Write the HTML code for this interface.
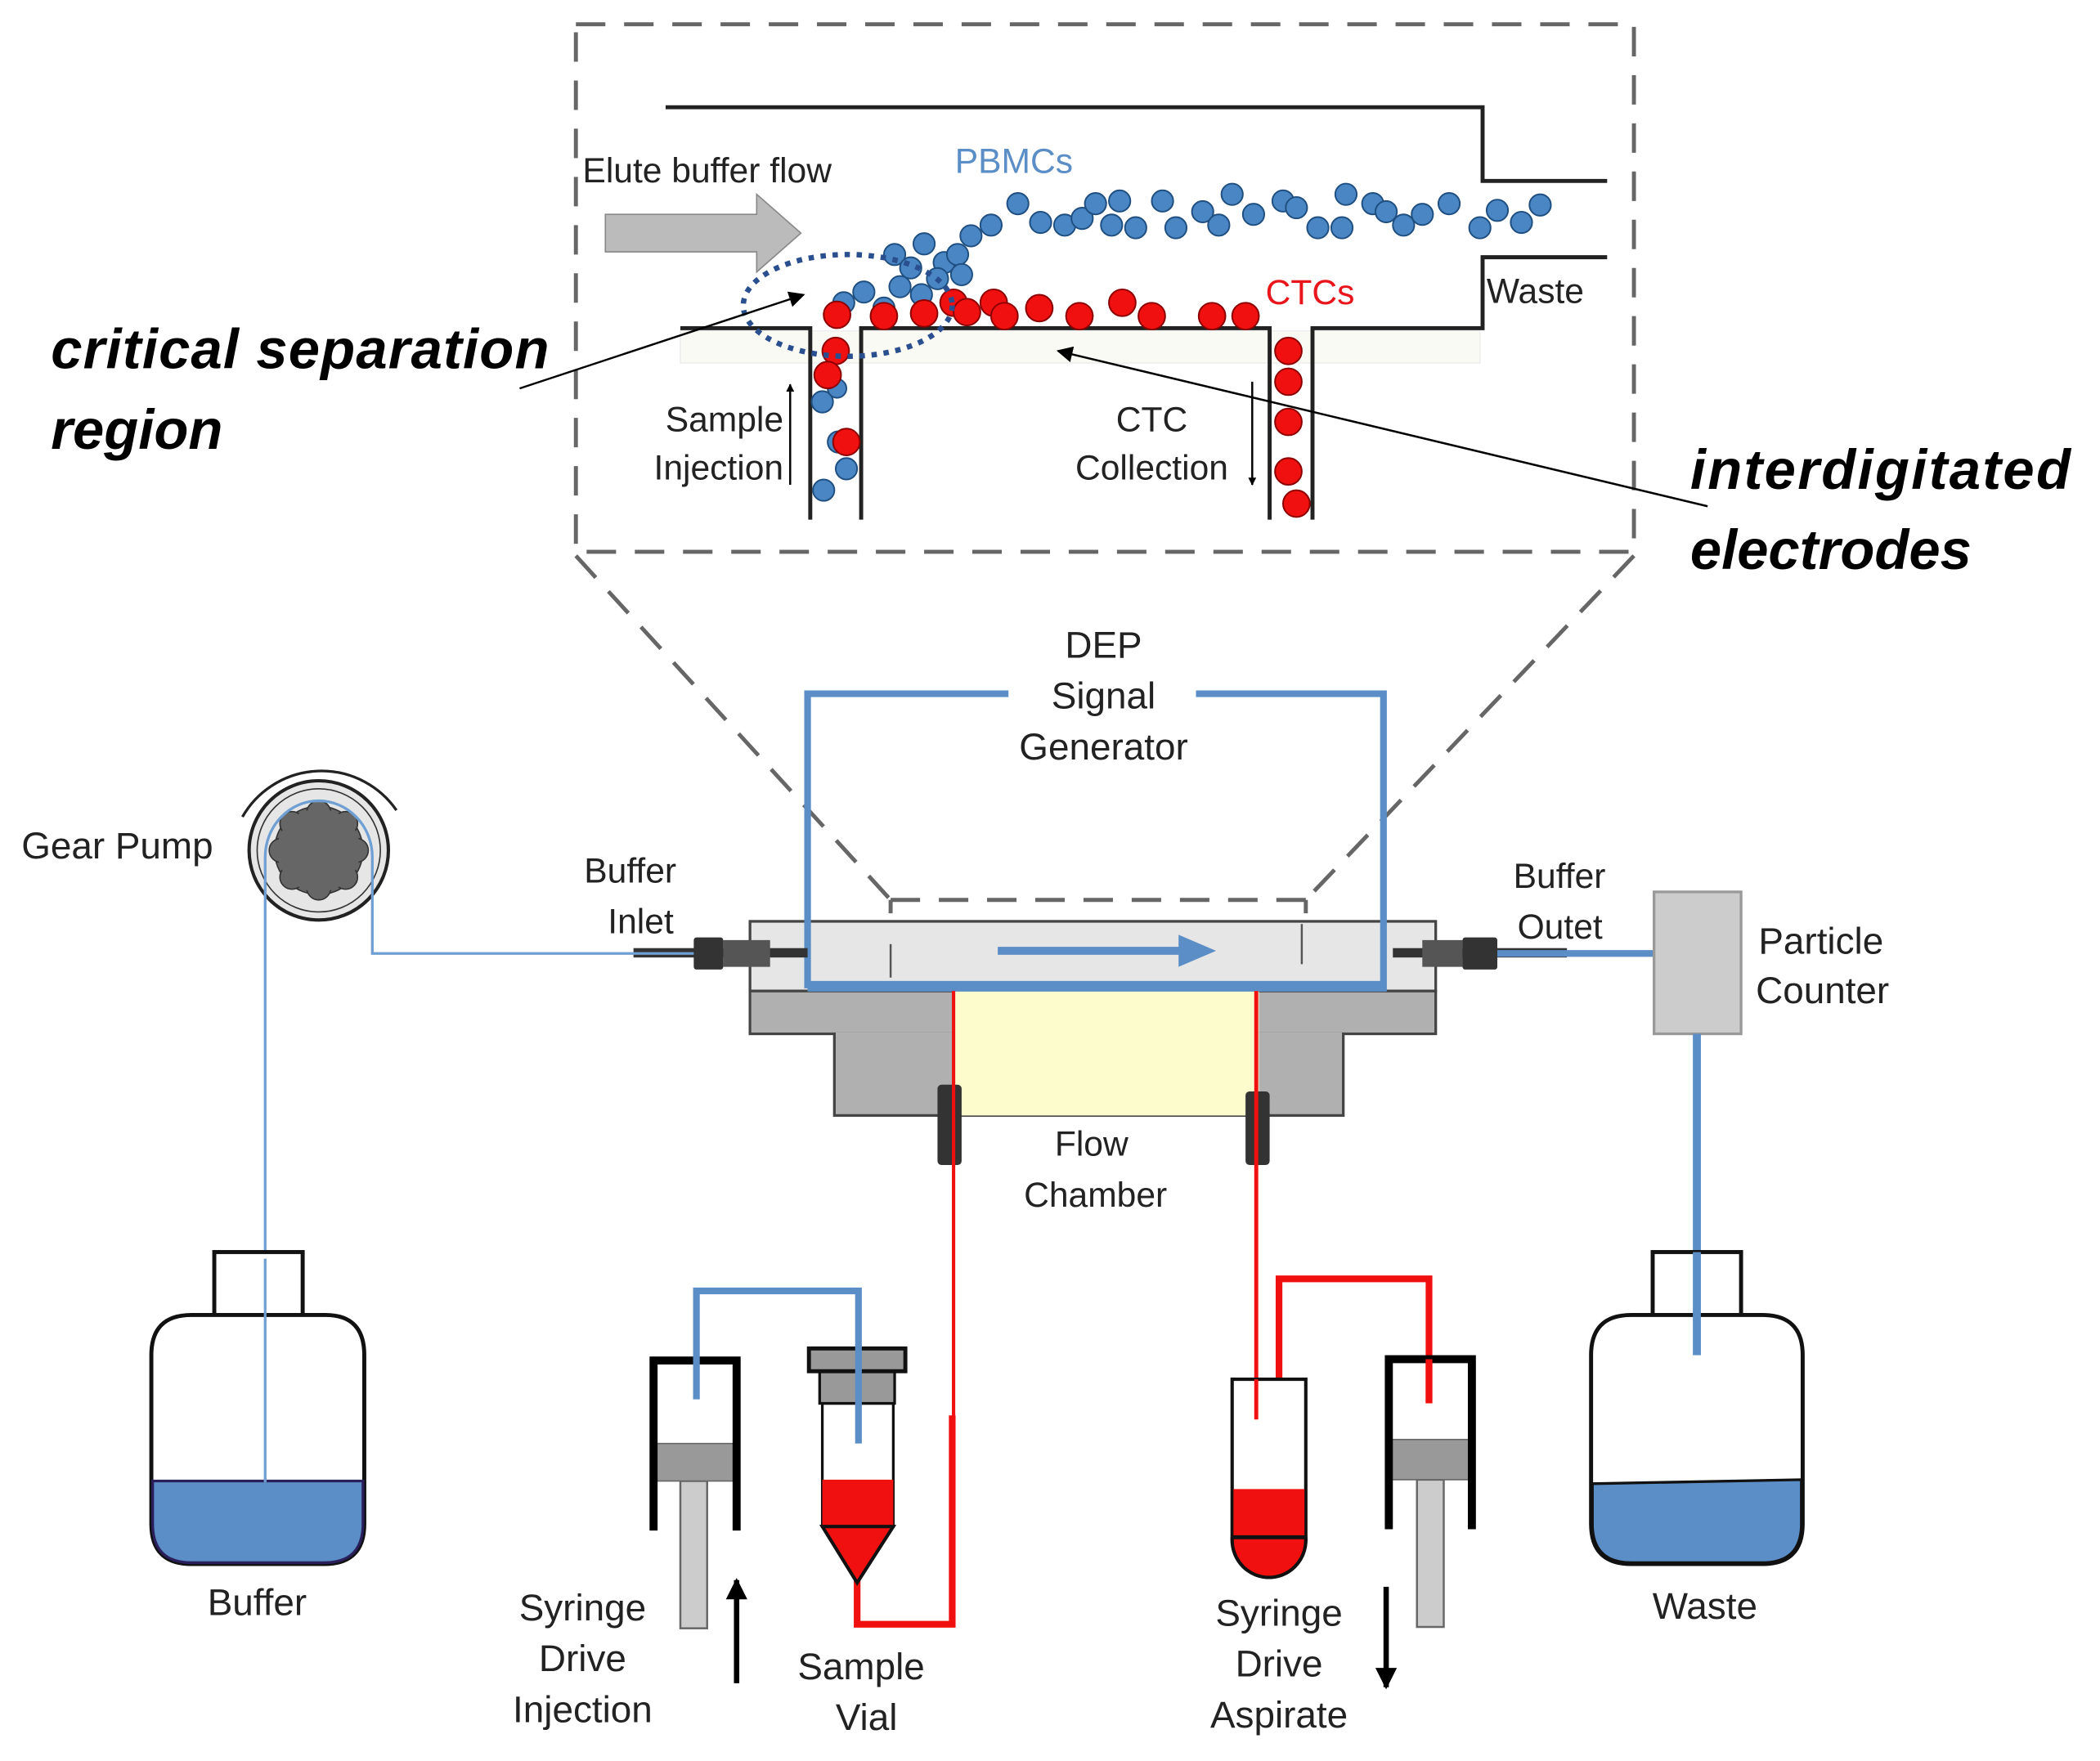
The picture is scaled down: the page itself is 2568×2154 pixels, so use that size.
<!DOCTYPE html>
<html><head><meta charset="utf-8"><style>
html,body{margin:0;padding:0;background:#fff;}
svg{display:block;}
text{font-family:"Liberation Sans",sans-serif;}
</style></head><body>
<svg width="2568" height="2154" viewBox="0 0 1568 1315" xmlns="http://www.w3.org/2000/svg">
<defs>
<marker id="ah" viewBox="0 0 10 10" refX="9" refY="5" markerWidth="8" markerHeight="8" orient="auto"><path d="M0,0 L10,5 L0,10 z" fill="#000"/></marker>
<marker id="ah3" viewBox="0 0 10 10" refX="9" refY="5" markerWidth="22" markerHeight="16" markerUnits="userSpaceOnUse" orient="auto"><path d="M0,0 L10,5 L0,10 z" fill="#000"/></marker>
<marker id="ah2" viewBox="0 0 10 10" refX="9" refY="5" markerWidth="4" markerHeight="4" orient="auto"><path d="M0,0 L10,5 L0,10 z" fill="#000"/></marker>
</defs>
<g stroke="#666" stroke-width="3" stroke-dasharray="22,14" fill="none">
<rect x="430" y="18" width="790" height="394"/>
<line x1="430" y1="415" x2="665" y2="672"/>
<line x1="1220" y1="415" x2="975" y2="672"/>
<line x1="665" y1="672" x2="975" y2="672"/>
<line x1="665" y1="752" x2="975" y2="752"/>
<line x1="665" y1="672" x2="665" y2="752" stroke-dasharray="10,8"/>
<line x1="975" y1="672" x2="975" y2="752" stroke-dasharray="10,8"/>
</g>
<rect x="508" y="247" width="597" height="24" fill="#fafaf4" stroke="#eee"/>
<g stroke="#222" stroke-width="3" fill="none">
<polyline points="497,80 1107,80 1107,135 1200,135"/>
<polyline points="1200,192 1107,192 1107,245 980,245 980,388"/>
<polyline points="508,245 605,245 605,388"/>
<polyline points="643,388 643,245 948,245 948,388"/>
</g>
<polygon points="452,160 565,160 565,145 598,174 565,203 565,188 452,188" fill="#bbb" stroke="#888"/>
<text x="435" y="136" font-size="26" fill="#222">Elute buffer flow</text>
<text x="713" y="129" font-size="26" fill="#5b8ec6">PBMCs</text>
<text x="945" y="227" font-size="26" fill="#e8161b">CTCs</text>
<text x="1110" y="226" font-size="26" fill="#222">Waste</text>
<text x="585" y="322" font-size="26" fill="#222" text-anchor="end">Sample</text>
<text x="585" y="358" font-size="26" fill="#222" text-anchor="end">Injection</text>
<text x="860" y="322" font-size="26" fill="#222" text-anchor="middle">CTC</text>
<text x="860" y="358" font-size="26" fill="#222" text-anchor="middle">Collection</text>
<line x1="590" y1="362" x2="590" y2="287" stroke="#000" stroke-width="1.5" marker-end="url(#ah2)"/>
<line x1="935" y1="285" x2="935" y2="362" stroke="#000" stroke-width="1.5" marker-end="url(#ah2)"/>
<g fill="#4a86c4" stroke="#1f4f80" stroke-width="1.2">
<circle cx="668" cy="190" r="8"/><circle cx="680" cy="200" r="8"/><circle cx="690" cy="182" r="8"/><circle cx="705" cy="196" r="8"/><circle cx="715" cy="190" r="8"/><circle cx="725" cy="176" r="8"/><circle cx="740" cy="168" r="8"/><circle cx="718" cy="205" r="8"/><circle cx="700" cy="208" r="8"/><circle cx="688" cy="220" r="8"/><circle cx="672" cy="214" r="8"/><circle cx="660" cy="230" r="8"/><circle cx="645" cy="218" r="8"/><circle cx="630" cy="226" r="8"/>
<circle cx="760" cy="152" r="8"/><circle cx="777" cy="166" r="8"/><circle cx="795" cy="168" r="8"/><circle cx="808" cy="163" r="8"/><circle cx="818" cy="152" r="8"/><circle cx="836" cy="150" r="8"/><circle cx="830" cy="168" r="8"/><circle cx="848" cy="170" r="8"/><circle cx="868" cy="150" r="8"/><circle cx="878" cy="170" r="8"/><circle cx="898" cy="158" r="8"/><circle cx="910" cy="168" r="8"/><circle cx="920" cy="145" r="8"/><circle cx="936" cy="160" r="8"/><circle cx="958" cy="150" r="8"/><circle cx="968" cy="155" r="8"/><circle cx="984" cy="170" r="8"/><circle cx="1005" cy="145" r="8"/><circle cx="1002" cy="170" r="8"/><circle cx="1025" cy="152" r="8"/><circle cx="1035" cy="158" r="8"/><circle cx="1048" cy="168" r="8"/><circle cx="1062" cy="160" r="8"/><circle cx="1082" cy="152" r="8"/><circle cx="1105" cy="170" r="8"/><circle cx="1118" cy="157" r="8"/><circle cx="1136" cy="166" r="8"/><circle cx="1150" cy="153" r="8"/>
<circle cx="614" cy="300" r="8"/><circle cx="626" cy="330" r="8"/><circle cx="632" cy="350" r="8"/><circle cx="615" cy="366" r="8"/><circle cx="625" cy="290" r="7"/>
</g>
<g fill="#f01010" stroke="#8a0000" stroke-width="1.2">
<circle cx="625" cy="235" r="10"/><circle cx="660" cy="236" r="10"/><circle cx="690" cy="234" r="10"/><circle cx="712" cy="226" r="10"/><circle cx="722" cy="233" r="10"/><circle cx="742" cy="226" r="10"/><circle cx="750" cy="236" r="10"/><circle cx="776" cy="230" r="10"/><circle cx="806" cy="236" r="10"/><circle cx="838" cy="226" r="10"/><circle cx="860" cy="236" r="10"/><circle cx="905" cy="236" r="10"/><circle cx="930" cy="236" r="10"/>
<circle cx="624" cy="262" r="10"/><circle cx="618" cy="280" r="10"/><circle cx="632" cy="330" r="10"/>
<circle cx="962" cy="262" r="10"/><circle cx="962" cy="285" r="10"/><circle cx="962" cy="315" r="10"/><circle cx="962" cy="352" r="10"/><circle cx="968" cy="376" r="10"/>
</g>
<ellipse cx="633" cy="228" rx="78" ry="38" fill="none" stroke="#2a4f8f" stroke-width="4" stroke-dasharray="4,5"/>
<text x="38" y="275" font-size="42" font-weight="bold" font-style="italic" fill="#000" textLength="372">critical separation</text>
<text x="38" y="335" font-size="42" font-weight="bold" font-style="italic" fill="#000">region</text>
<text x="1262" y="365" font-size="42" font-weight="bold" font-style="italic" fill="#000" textLength="284">interdigitated</text>
<text x="1262" y="425" font-size="42" font-weight="bold" font-style="italic" fill="#000">electrodes</text>
<line x1="388" y1="290" x2="600" y2="220" stroke="#000" stroke-width="1.5" marker-end="url(#ah)"/>
<line x1="1275" y1="378" x2="790" y2="262" stroke="#000" stroke-width="1.5" marker-end="url(#ah)"/>
<text x="824" y="491" font-size="28" fill="#222" text-anchor="middle">DEP</text>
<text x="824" y="529" font-size="28" fill="#222" text-anchor="middle">Signal</text>
<text x="824" y="567" font-size="28" fill="#222" text-anchor="middle">Generator</text>
<rect x="560" y="740" width="512" height="32" fill="#b0b0b0" stroke="#444" stroke-width="2"/>
<rect x="623" y="770" width="380" height="63" fill="#b0b0b0" stroke="#444" stroke-width="2"/>
<rect x="561" y="741" width="510" height="30" fill="#b0b0b0"/>
<rect x="560" y="688" width="512" height="52" fill="#e6e6e6" stroke="#444" stroke-width="2"/>
<rect x="712" y="740" width="228" height="93" fill="#fcfccc"/>
<line x1="665" y1="705" x2="665" y2="730" stroke="#555" stroke-width="1.5"/>
<line x1="972" y1="690" x2="972" y2="720" stroke="#555" stroke-width="1.5"/>
<polyline points="603,738 603,518 753,518" fill="none" stroke="#5b8ec6" stroke-width="5"/>
<polyline points="893,518 1033,518 1033,738 603,738" fill="none" stroke="#5b8ec6" stroke-width="5"/>
<line x1="603" y1="736" x2="1033" y2="736" stroke="#5b8ec6" stroke-width="7"/>
<line x1="745" y1="710" x2="885" y2="710" stroke="#5b8ec6" stroke-width="6"/>
<polygon points="880,698 908,710 880,722" fill="#5b8ec6"/>
<rect x="473" y="708" width="130" height="7" fill="#333"/>
<rect x="518" y="700" width="22" height="24" fill="#333" rx="2"/>
<rect x="540" y="702" width="35" height="20" fill="#555"/>
<rect x="1040" y="708" width="130" height="7" fill="#333"/>
<rect x="1062" y="702" width="30" height="20" fill="#555"/>
<rect x="1092" y="700" width="26" height="24" fill="#333" rx="2"/>
<rect x="700" y="810" width="18" height="60" fill="#333" rx="3"/>
<rect x="930" y="815" width="18" height="55" fill="#333" rx="3"/>
<text x="505" y="659" font-size="26" fill="#222" text-anchor="end">Buffer</text>
<text x="503" y="697" font-size="26" fill="#222" text-anchor="end">Inlet</text>
<text x="1130" y="663" font-size="26" fill="#222">Buffer</text>
<text x="1133" y="701" font-size="26" fill="#222">Outet</text>
<text x="815" y="863" font-size="26" fill="#222" text-anchor="middle">Flow</text>
<text x="818" y="901" font-size="26" fill="#222" text-anchor="middle">Chamber</text>
<path d="M181,610 A68,68 0 0 1 296,605" fill="none" stroke="#222" stroke-width="2"/>
<circle cx="238" cy="635" r="52" fill="#e6e6e6" stroke="#222" stroke-width="2.5"/>
<circle cx="238" cy="635" r="46" fill="none" stroke="#333" stroke-width="1"/>
<g fill="#666" stroke="#333" stroke-width="1">
<circle cx="238" cy="635" r="33"/>
<circle cx="238" cy="607" r="9"/><circle cx="258" cy="615" r="9"/><circle cx="266" cy="635" r="9"/><circle cx="258" cy="655" r="9"/><circle cx="238" cy="663" r="9"/><circle cx="218" cy="655" r="9"/><circle cx="210" cy="635" r="9"/><circle cx="218" cy="615" r="9"/>
</g>
<circle cx="238" cy="635" r="31" fill="#666"/>
<path d="M198,1107 L198,640 A40,42 0 0 1 278,640 L278,712 L518,712" fill="none" stroke="#6f9fd3" stroke-width="2"/>
<text x="16" y="641" font-size="28" fill="#222">Gear Pump</text>
<rect x="160" y="935" width="66" height="47" fill="#fff" stroke="#111" stroke-width="3"/>
<path d="M143,982 L243,982 Q272,982 272,1012 L272,1138 Q272,1168 242,1168 L143,1168 Q113,1168 113,1138 L113,1012 Q113,982 143,982 Z" fill="#fff" stroke="#111" stroke-width="3"/>
<path d="M114,1106 L271,1106 L271,1138 Q271,1167 242,1167 L143,1167 Q114,1167 114,1138 Z" fill="#5b8ec6" stroke="#2a1f5a" stroke-width="2"/>
<line x1="198" y1="940" x2="198" y2="1107" stroke="#6f9fd3" stroke-width="2"/>
<text x="192" y="1206" font-size="28" fill="#222" text-anchor="middle">Buffer</text>
<line x1="1118" y1="712" x2="1237" y2="712" stroke="#5b8ec6" stroke-width="5"/>
<rect x="1235" y="666" width="65" height="106" fill="#ccc" stroke="#999" stroke-width="2"/>
<line x1="1267" y1="772" x2="1267" y2="1012" stroke="#5b8ec6" stroke-width="6"/>
<text x="1313" y="712" font-size="28" fill="#222">Particle</text>
<text x="1311" y="749" font-size="28" fill="#222">Counter</text>
<rect x="1234" y="935" width="66" height="47" fill="#fff" stroke="#111" stroke-width="3"/>
<path d="M1218,982 L1316,982 Q1346,982 1346,1012 L1346,1138 Q1346,1168 1316,1168 L1218,1168 Q1188,1168 1188,1138 L1188,1012 Q1188,982 1218,982 Z" fill="#fff" stroke="#111" stroke-width="3"/>
<path d="M1189,1108 L1345,1105 L1345,1138 Q1345,1167 1316,1167 L1218,1167 Q1189,1167 1189,1138 Z" fill="#5b8ec6" stroke="#111" stroke-width="2"/>
<line x1="1267" y1="935" x2="1267" y2="1012" stroke="#5b8ec6" stroke-width="6"/>
<text x="1273" y="1209" font-size="28" fill="#222" text-anchor="middle">Waste</text>
<line x1="712" y1="740" x2="712" y2="1058" stroke="#f01010" stroke-width="2.5"/>
<line x1="938" y1="740" x2="938" y2="1060" stroke="#f01010" stroke-width="3"/>
<polyline points="640,1180 640,1213 711,1213 711,1057" fill="none" stroke="#f01010" stroke-width="5"/>
<polyline points="955,1060 955,955 1067,955 1067,1048" fill="none" stroke="#f01010" stroke-width="5"/>
<rect x="508" y="1106" width="20" height="110" fill="#ccc" stroke="#666" stroke-width="1.5"/>
<rect x="487" y="1078" width="64" height="28" fill="#999" stroke="#666"/>
<polyline points="488,1143 488,1016 550,1016 550,1143" fill="none" stroke="#000" stroke-width="6"/>
<rect x="614" y="1048" width="53" height="92" fill="#fff" stroke="#111" stroke-width="2"/>
<rect x="614" y="1105" width="53" height="35" fill="#f01010"/>
<polygon points="614,1140 667,1140 640,1182" fill="#f01010" stroke="#111" stroke-width="2.5"/>
<rect x="612" y="1022" width="56" height="26" fill="#999" stroke="#111" stroke-width="2"/>
<rect x="604" y="1007" width="72" height="17" fill="#999" stroke="#111" stroke-width="3"/>
<polyline points="520,1045 520,964 641,964 641,1078" fill="none" stroke="#5b8ec6" stroke-width="5"/>
<line x1="550" y1="1257" x2="550" y2="1180" stroke="#000" stroke-width="4" marker-end="url(#ah3)"/>
<text x="435" y="1210" font-size="28" fill="#222" text-anchor="middle">Syringe</text>
<text x="435" y="1248" font-size="28" fill="#222" text-anchor="middle">Drive</text>
<text x="435" y="1286" font-size="28" fill="#222" text-anchor="middle">Injection</text>
<text x="643" y="1254" font-size="28" fill="#222" text-anchor="middle">Sample</text>
<text x="647" y="1292" font-size="28" fill="#222" text-anchor="middle">Vial</text>
<path d="M920,1030 L975,1030 L975,1150 A27.5,28 0 0 1 920,1150 Z" fill="#fff" stroke="#111" stroke-width="2.5"/>
<path d="M921,1112 L974,1112 L974,1150 A26.5,27 0 0 1 921,1150 Z" fill="#f01010"/>
<line x1="920" y1="1148" x2="975" y2="1148" stroke="#111" stroke-width="3"/>
<path d="M920,1148 L920,1150 A27.5,28 0 0 0 975,1150 L975,1148" fill="none" stroke="#111" stroke-width="2.5"/>
<line x1="938" y1="1030" x2="938" y2="1060" stroke="#f01010" stroke-width="3"/>
<rect x="1058" y="1105" width="20" height="110" fill="#ccc" stroke="#666" stroke-width="1.5"/>
<rect x="1036" y="1075" width="64" height="30" fill="#999" stroke="#666"/>
<polyline points="1037,1142 1037,1015 1099,1015 1099,1142" fill="none" stroke="#000" stroke-width="6"/>
<line x1="1067" y1="1015" x2="1067" y2="1048" stroke="#f01010" stroke-width="5"/>
<line x1="1035" y1="1185" x2="1035" y2="1260" stroke="#000" stroke-width="4" marker-end="url(#ah3)"/>
<text x="955" y="1214" font-size="28" fill="#222" text-anchor="middle">Syringe</text>
<text x="955" y="1252" font-size="28" fill="#222" text-anchor="middle">Drive</text>
<text x="955" y="1290" font-size="28" fill="#222" text-anchor="middle">Aspirate</text>
</svg>
</body></html>
